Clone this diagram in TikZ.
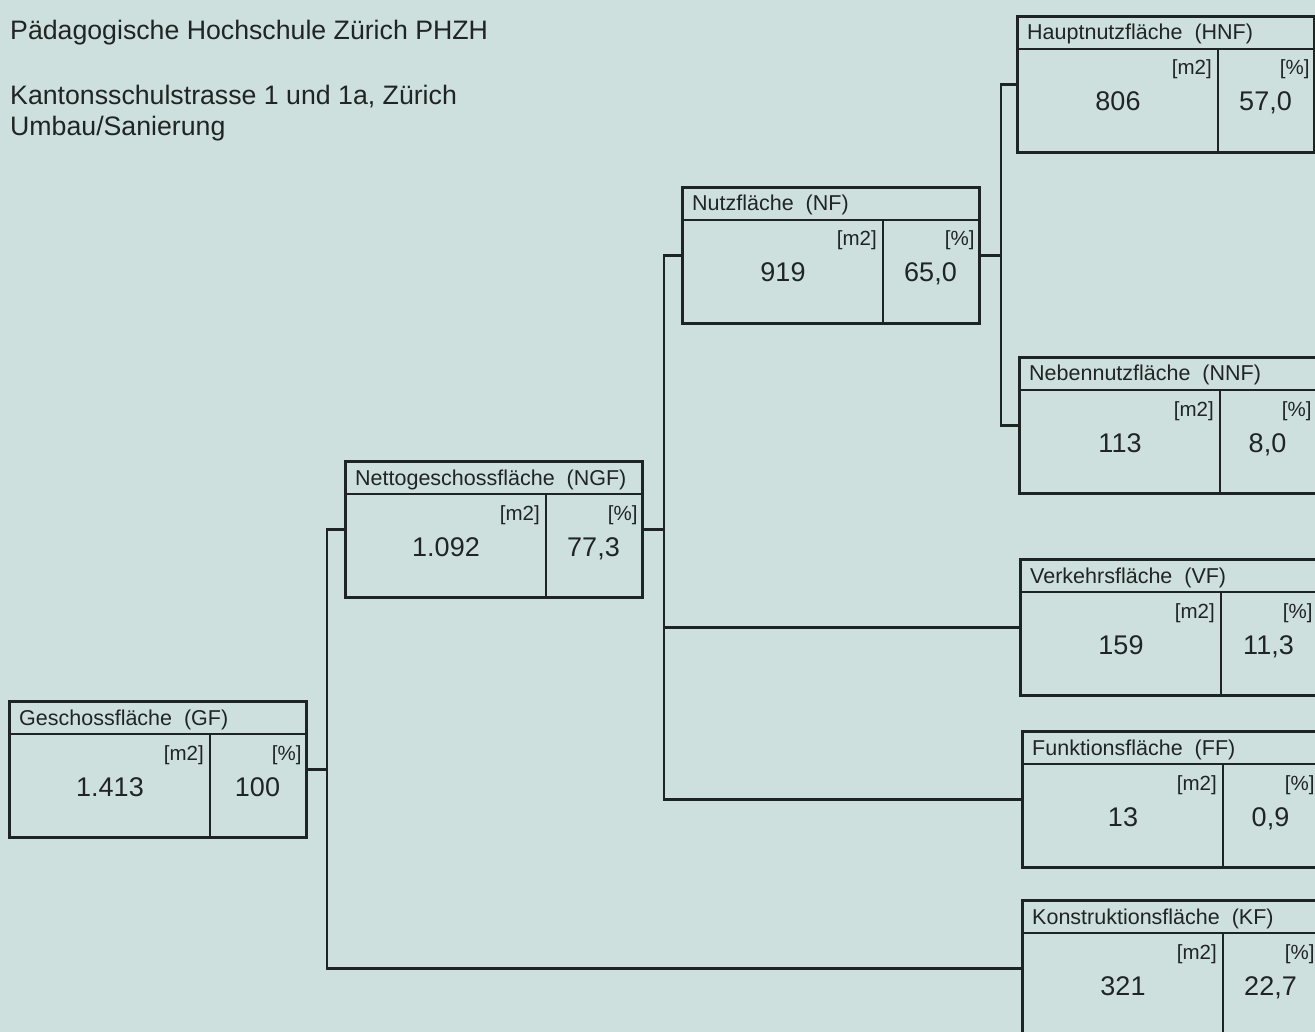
\documentclass[tikz,border=0pt]{standalone}
\usepackage{fontspec}
\setmainfont{Liberation Sans}
\definecolor{bgcol}{RGB}{205,224,222}
\definecolor{linecol}{RGB}{30,36,36}
\definecolor{txtcol}{RGB}{32,36,36}
\tikzset{
  boxnode/.style={draw=linecol, line width=2.8pt, rectangle, inner sep=0pt, minimum width=297pt, minimum height=136pt, anchor=north west},
  boxline/.style={draw=linecol, line width=2.5pt},
  conn/.style={draw=linecol, line width=2.5pt},
  headtext/.style={inner sep=0pt, text=txtcol, font=\fontsize{21.5}{23}\selectfont, anchor=base west},
  unittext/.style={inner sep=0pt, text=txtcol, font=\fontsize{20.5}{22}\selectfont, anchor=base east},
  numtext/.style={inner sep=0pt, text=txtcol, font=\fontsize{27}{30}\selectfont, anchor=base},
  titletext/.style={inner sep=0pt, text=txtcol, font=\fontsize{26.7}{30}\selectfont, anchor=base west}
}
\newcommand\areabox[6]{%
  \node[boxnode] (#1) at (#2,#3) {};
  \draw[boxline] ([yshift=-34pt]#1.north west) -- ([yshift=-34pt]#1.north east);
  \draw[boxline] ([xshift=202pt,yshift=-34pt]#1.north west) -- ([xshift=202pt]#1.south west);
  \node[headtext] (#1-head) at ([xshift=11pt,yshift=-25pt]#1.north west) {#4};
  \node[unittext] (#1-um) at ([xshift=196pt,yshift=-60pt]#1.north west) {[m2]};
  \node[unittext] (#1-up) at ([xshift=-6pt,yshift=-60pt]#1.north east) {[\%]};
  \node[numtext] (#1-m) at ([xshift=102pt,yshift=-96pt]#1.north west) {#5};
  \node[numtext] (#1-p) at ([xshift=249.5pt,yshift=-96pt]#1.north west) {#6};
}
\begin{document}
\begin{tikzpicture}[x=1pt,y=-1pt]
\fill[bgcol] (0,0) rectangle (1315,1032);
\clip (0,0) rectangle (1315,1032);
\node[titletext] (t1) at (10,40) {Pädagogische Hochschule Zürich PHZH};
\node[titletext] (t2) at (10,105) {Kantonsschulstrasse 1 und 1a, Zürich};
\node[titletext] (t3) at (10,136) {Umbau/Sanierung};

\areabox{gf}{8}{700}{Geschossfläche~~(GF)}{1.413}{100}
\areabox{ngf}{344}{460}{Nettogeschossfläche~~(NGF)}{1.092}{77,3}
\areabox{nf}{681}{186}{Nutzfläche~~(NF)}{919}{65,0}
\areabox{hnf}{1016}{15}{Hauptnutzfläche~~(HNF)}{806}{57,0}
\areabox{nnf}{1018}{356}{Nebennutzfläche~~(NNF)}{113}{8,0}
\areabox{vf}{1019}{558}{Verkehrsfläche~~(VF)}{159}{11,3}
\areabox{ff}{1021}{730}{Funktionsfläche~~(FF)}{13}{0,9}
\areabox{kf}{1021}{899}{Konstruktionsfläche~~(KF)}{321}{22,7}

\draw[conn] (gf.east) -- ++(19,0) coordinate (j1);
\draw[conn] (j1) |- (ngf.west);
\draw[conn] (j1) |- (kf.west);
\draw[conn] (ngf.east) -- ++(20,0) coordinate (j2);
\draw[conn] (j2) |- (nf.west);
\draw[conn] (j2) |- (vf.west);
\draw[conn] (j2) |- (ff.west);
\draw[conn] (nf.east) -- ++(20,0) coordinate (j3);
\draw[conn] (j3) |- (hnf.west);
\draw[conn] (j3) |- (nnf.west);
\end{tikzpicture}
\end{document}
